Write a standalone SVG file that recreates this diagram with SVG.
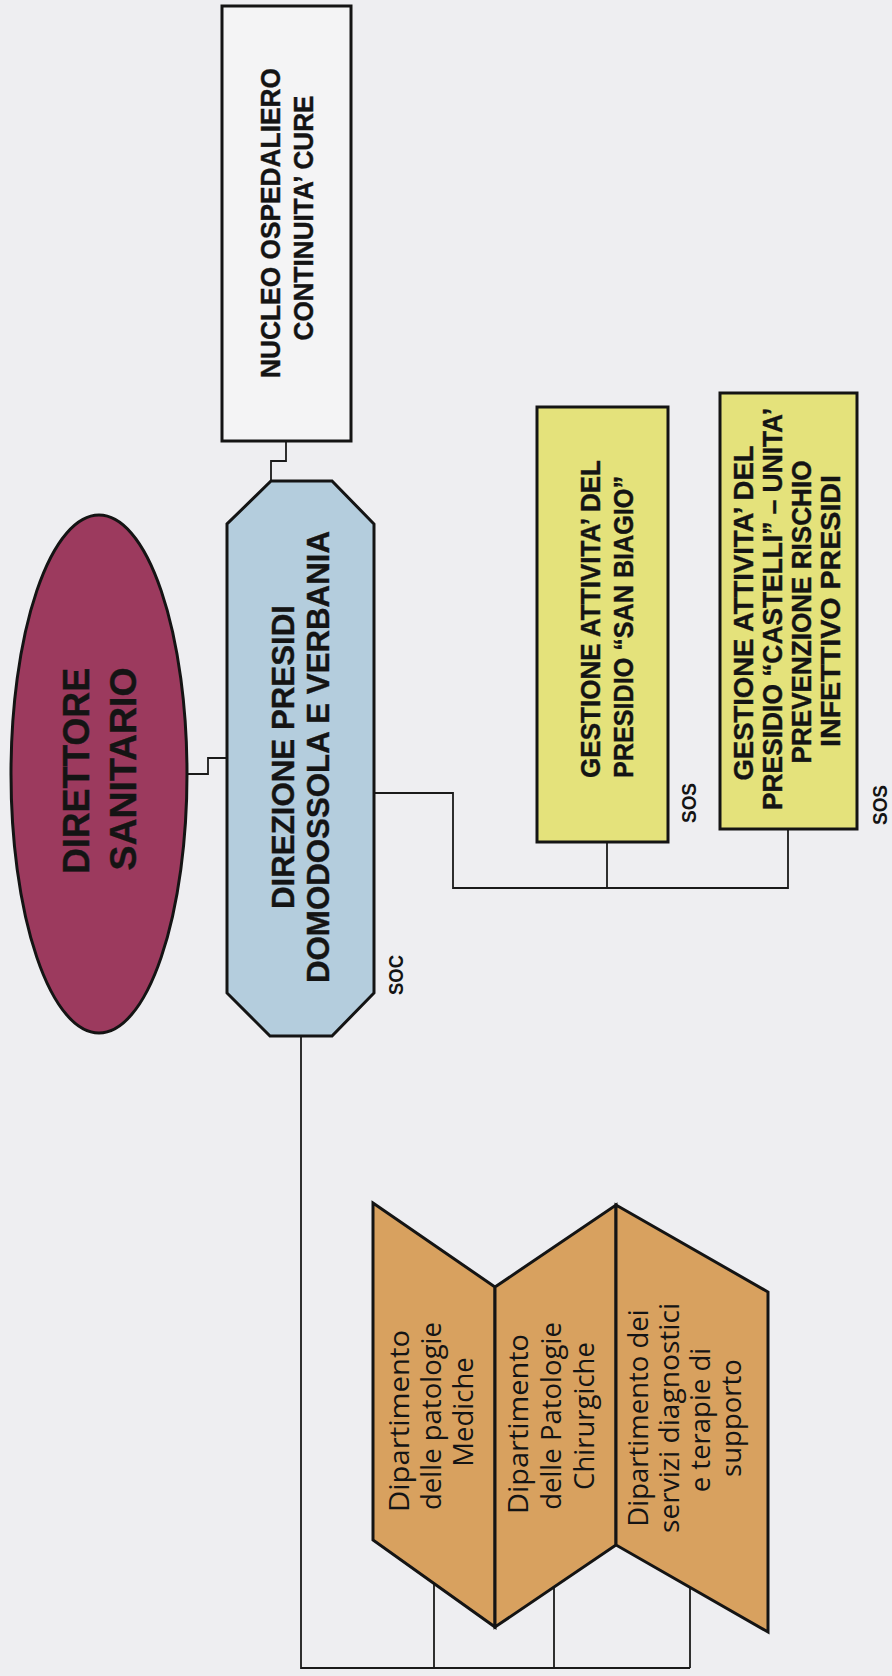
<svg xmlns="http://www.w3.org/2000/svg" width="892" height="1676" viewBox="0 0 892 1676">
<style>
.bg{fill:#EEEEF1}
.lbl{font-family:"Liberation Sans",Arial,sans-serif;font-weight:bold;fill:#141414;stroke:#141414;stroke-width:0.4;text-anchor:middle}
.dep{font-family:"Open Sans","Noto Sans",sans-serif;fill:#141414;text-anchor:middle;font-size:27.5px}
.tag{font-family:"Liberation Sans",Arial,sans-serif;font-weight:bold;fill:#141414;font-size:20px;text-anchor:middle}
.conn{fill:none;stroke:#1a1a1a;stroke-width:1.8}
.box{stroke:#141414;stroke-width:3}
</style>
<rect class="bg" x="0" y="0" width="892" height="1676"/>

<g id="connectors">
<polyline class="conn" points="286,441 286,461 271,461 271,481"/>
<polyline class="conn" points="187,774 208,774 208,758 227,758"/>
<polyline class="conn" points="374,793 453,793 453,888 788,888 788,829"/>
<line class="conn" x1="607" y1="842" x2="607" y2="888"/>
<polyline class="conn" points="301,1036 301,1668 690,1668"/>
<line class="conn" x1="434" y1="1668" x2="434" y2="1583"/>
<line class="conn" x1="554" y1="1668" x2="554" y2="1587"/>
<line class="conn" x1="690" y1="1668" x2="690" y2="1587"/>
</g>

<g id="nucleo">
<rect class="box" x="222" y="6" width="129" height="435" fill="#F4F4F5" stroke-width="2.5"/>
<text class="lbl" font-size="28" transform="translate(0,223) rotate(-90)"><tspan x="0" y="280" textLength="310" lengthAdjust="spacingAndGlyphs">NUCLEO OSPEDALIERO</tspan><tspan x="5" y="313" textLength="245" lengthAdjust="spacingAndGlyphs">CONTINUITA’ CURE</tspan></text>
</g>

<g id="direttore">
<ellipse class="box" cx="99" cy="774" rx="88" ry="259" fill="#9C3A5E"/>
<text class="lbl" font-size="36" transform="translate(0,771) rotate(-90)"><tspan x="0" y="89" textLength="206" lengthAdjust="spacingAndGlyphs">DIRETTORE</tspan><tspan x="2" y="136" textLength="203" lengthAdjust="spacingAndGlyphs">SANITARIO</tspan></text>
</g>

<g id="direzione">
<polygon class="box" points="271,481 332,481 374,524 374,993 332,1036 270,1036 227,993 227,524" fill="#B4CDDD"/>
<text class="lbl" font-size="31" transform="translate(0,757) rotate(-90)"><tspan x="0" y="294" textLength="304" lengthAdjust="spacingAndGlyphs">DIREZIONE PRESIDI</tspan><tspan x="0" y="329" textLength="452" lengthAdjust="spacingAndGlyphs">DOMODOSSOLA E VERBANIA</tspan></text>
<text class="tag" transform="translate(403,975) rotate(-90)" textLength="40" lengthAdjust="spacingAndGlyphs">SOC</text>
</g>

<g id="sanbiagio">
<rect class="box" x="537" y="407" width="131" height="435" fill="#E4E27B"/>
<text class="lbl" font-size="27" transform="translate(0,619) rotate(-90)"><tspan x="0" y="600" textLength="318" lengthAdjust="spacingAndGlyphs">GESTIONE ATTIVITA’ DEL</tspan><tspan x="-8" y="633" textLength="302" lengthAdjust="spacingAndGlyphs">PRESIDIO “SAN BIAGIO”</tspan></text>
<text class="tag" transform="translate(696,803) rotate(-90)" textLength="40" lengthAdjust="spacingAndGlyphs">SOS</text>
</g>

<g id="castelli">
<rect class="box" x="720" y="393" width="137" height="436" fill="#E4E27B"/>
<text class="lbl" font-size="27" transform="translate(0,611) rotate(-90)"><tspan x="-2" y="753" textLength="335" lengthAdjust="spacingAndGlyphs">GESTIONE ATTIVITA’ DEL</tspan><tspan x="2" y="782" textLength="402" lengthAdjust="spacingAndGlyphs">PRESIDIO “CASTELLI” – UNITA’</tspan><tspan x="-1" y="811" textLength="303" lengthAdjust="spacingAndGlyphs">PREVENZIONE RISCHIO</tspan><tspan x="0" y="840" textLength="272" lengthAdjust="spacingAndGlyphs">INFETTIVO  PRESIDI</tspan></text>
<text class="tag" transform="translate(887,805) rotate(-90)" textLength="40" lengthAdjust="spacingAndGlyphs">SOS</text>
</g>

<g id="dip-mediche">
<polygon class="box" stroke-width="4" points="373,1203 495,1287 495,1627 373,1540" fill="#D8A15F"/>
<text class="dep" transform="translate(0,1420) rotate(-90)"><tspan x="-1" y="409" textLength="182" lengthAdjust="spacingAndGlyphs">Dipartimento</tspan><tspan x="4" y="441">delle patologie</tspan><tspan x="8" y="473">Mediche</tspan></text>
</g>

<g id="dip-chirurgiche">
<polygon class="box" stroke-width="4" points="495,1287 616,1205 616,1545 495,1627" fill="#D8A15F"/>
<text class="dep" transform="translate(0,1420) rotate(-90)"><tspan x="-4" y="528" textLength="180" lengthAdjust="spacingAndGlyphs">Dipartimento</tspan><tspan x="4" y="561">delle Patologie</tspan><tspan x="4" y="594">Chirurgiche</tspan></text>
</g>

<g id="dip-servizi">
<polygon class="box" stroke-width="4" points="616,1205 768,1292 768,1632 616,1545" fill="#D8A15F"/>
<text class="dep" transform="translate(0,1418) rotate(-90)"><tspan x="0" y="648">Dipartimento dei</tspan><tspan x="0" y="679" textLength="230" lengthAdjust="spacingAndGlyphs">servizi diagnostici</tspan><tspan x="-2" y="710">e terapie di</tspan><tspan x="0" y="741">supporto</tspan></text>
</g>
</svg>
